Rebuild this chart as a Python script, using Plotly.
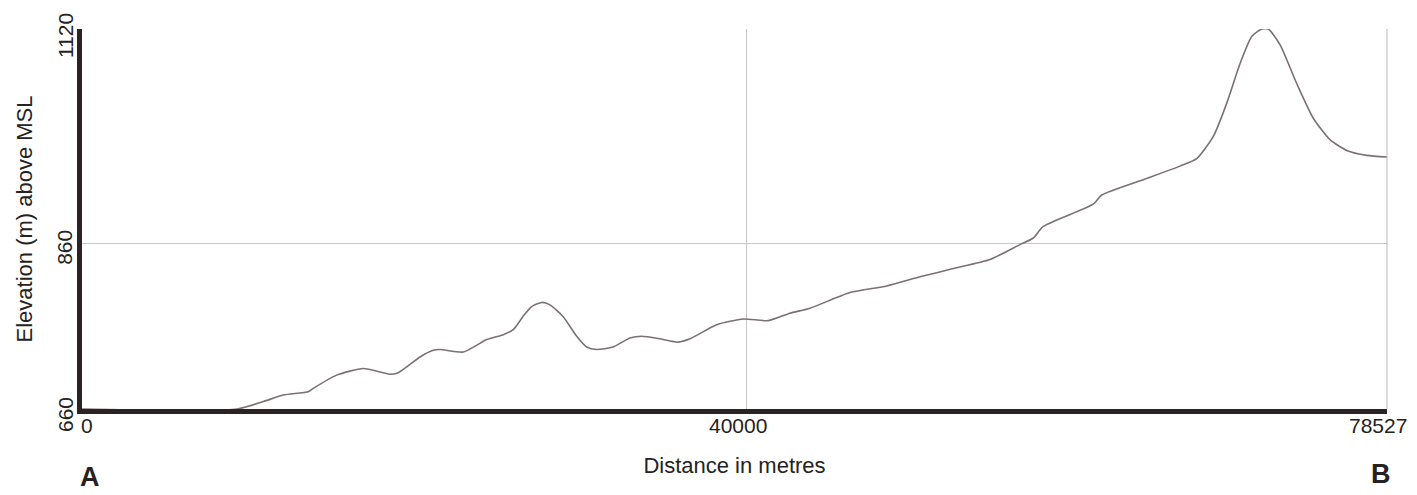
import plotly.graph_objects as go

distance_m = [0, 9327, 10910, 12113, 13617, 13918, 15326, 16927, 18534, 19033,
              20339, 21139, 21542, 22944, 24352, 25351, 25953, 26537, 27060, 27662,
              28161, 28944, 29768, 30370, 30972, 31952, 32975, 33679, 34781, 35882,
              36586, 38192, 39794, 41297, 42603, 43807, 46214, 48422, 50426, 52430,
              54638, 56443, 57244, 57845, 60854, 61359, 64067, 66071, 67076, 68075,
              68881, 69681, 70386, 70987, 71385, 72088, 73093, 74092, 75097, 76102,
              77306, 78527]
elevation_m = [660, 660, 669, 677, 681, 685, 701, 709, 702, 704,
               723, 731, 732, 729, 744, 750, 756, 772, 784, 789,
               786, 772, 748, 735, 732, 735, 746, 748, 745, 741,
               745, 762, 769, 767, 776, 782, 801, 809, 820, 830,
               841, 859, 867, 881, 908, 919, 939, 954, 963, 990,
               1030, 1078, 1111, 1120, 1120, 1101, 1054, 1012, 986, 973,
               967, 965]

x_ticks = [0, 40000, 78527]
y_ticks = [660, 860, 1120]

FONT = "Liberation Sans, Arial, sans-serif"
TXT = "#262222"

fig = go.Figure()
fig.add_trace(go.Scatter(
    x=distance_m, y=elevation_m, mode="lines",
    line=dict(color="#7d7070", width=1.6, shape="spline", smoothing=0.6),
    showlegend=False, hoverinfo="x+y"))

# page body has an 8px default margin: size the figure to fit inside the window
fig.update_layout(
    width=1409, height=487,
    margin=dict(l=74, r=30, t=21, b=86),
    paper_bgcolor="white", plot_bgcolor="white",
    font=dict(family=FONT, size=21, color=TXT),
)
fig.update_xaxes(
    range=[0, 78527], tickvals=x_ticks, showticklabels=False,
    showgrid=True, gridcolor="#c9c6c6", gridwidth=1, zeroline=False,
    showline=True, linecolor="#2b2323", linewidth=5, ticks="",
    title=dict(text="Distance in metres", font=dict(size=22, color=TXT), standoff=46),
    automargin=False,
)
fig.update_yaxes(
    range=[660, 1120], tickvals=y_ticks, showticklabels=False,
    showgrid=True, gridcolor="#c9c6c6", gridwidth=1, zeroline=False,
    showline=True, linecolor="#2b2323", linewidth=5, ticks="",
    title=dict(text="Elevation (m) above MSL", font=dict(size=22, color=TXT), standoff=40),
    automargin=False,
)
# thin right border
fig.add_shape(type="line", xref="paper", yref="paper", x0=1, x1=1, y0=0, y1=1,
              line=dict(color="#b9b6b6", width=1))

# tick labels placed as in the original (slightly offset from the ticks)
x_shift = {0: 5, 40000: -9, 78527: -9}
for v in x_ticks:
    fig.add_annotation(text=str(v), xref="x", yref="paper", x=v, y=0,
                       xshift=x_shift[v], yshift=-16, showarrow=False,
                       font=dict(size=21, color=TXT), xanchor="center", yanchor="middle")
y_shift = {660: -6, 860: -4, 1120: -7}
for v in y_ticks:
    fig.add_annotation(text=str(v), xref="paper", yref="y", x=-0.013, y=v,
                       yshift=y_shift[v], textangle=-90, showarrow=False,
                       font=dict(size=21, color=TXT), xanchor="center", yanchor="middle")

fig.add_annotation(text="<b>A</b>", xref="paper", yref="paper", x=0.006, y=-0.179,
                   showarrow=False, font=dict(size=27, color=TXT), xanchor="center", yanchor="middle")
fig.add_annotation(text="<b>B</b>", xref="paper", yref="paper", x=0.9954, y=-0.171,
                   showarrow=False, font=dict(size=27, color=TXT), xanchor="center", yanchor="middle")

fig.write_html("out.html")
